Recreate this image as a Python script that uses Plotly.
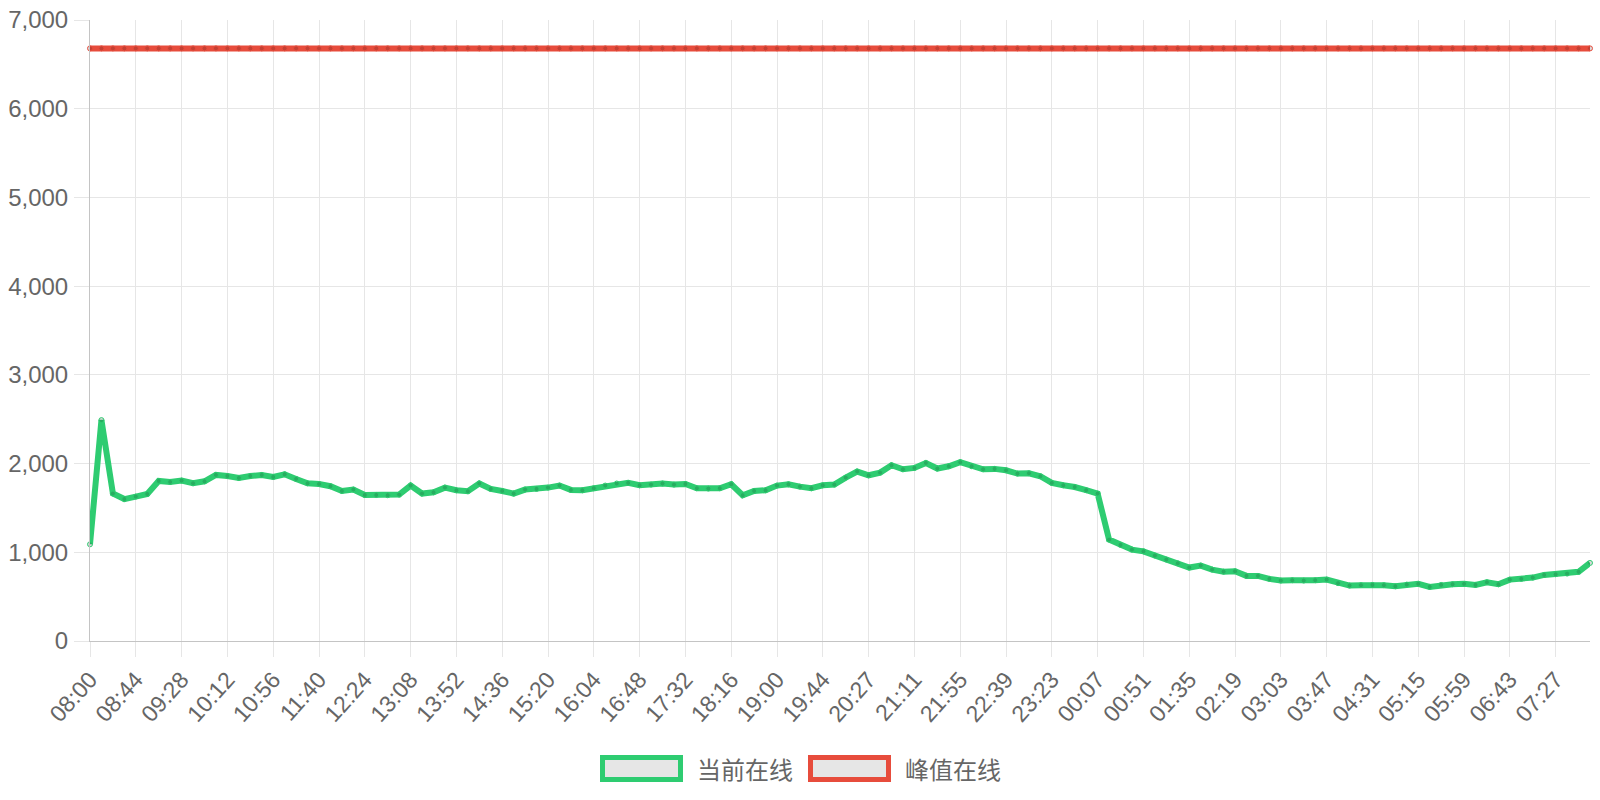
import plotly.graph_objects as go

tick_labels = ["08:00", "08:44", "09:28", "10:12", "10:56", "11:40", "12:24", "13:08", "13:52",
               "14:36", "15:20", "16:04", "16:48", "17:32", "18:16", "19:00", "19:44", "20:27",
               "21:11", "21:55", "22:39", "23:23", "00:07", "00:51", "01:35", "02:19", "03:03",
               "03:47", "04:31", "05:15", "05:59", "06:43", "07:27"]

current_online = [
    1090, 2490, 1662, 1600, 1628, 1657, 1804, 1793, 1808, 1778, 1800, 1872,
    1860, 1838, 1860, 1872, 1849, 1879, 1827, 1778, 1770, 1745, 1691, 1707,
    1646, 1646, 1643, 1650, 1752, 1662, 1676, 1729, 1699, 1688, 1775, 1714,
    1691, 1662, 1707, 1714, 1729, 1752, 1703, 1699, 1722, 1752, 1775, 1782,
    1755, 1763, 1775, 1763, 1770, 1722, 1718, 1722, 1767, 1643, 1691, 1699,
    1752, 1767, 1740, 1722, 1755, 1763, 1842, 1910, 1868, 1898, 1981, 1936,
    1951, 2007, 1944, 1970, 2015, 1970, 1936, 1940, 1924, 1887, 1891, 1857,
    1782, 1755, 1736, 1700, 1662, 1143, 1083, 1030, 1011, 963, 918, 876,
    828, 850, 805, 782, 786, 734, 734, 700, 681, 685, 681, 685,
    692, 652, 625, 629, 632, 629, 617, 636, 644, 610, 632, 640,
    644, 632, 662, 640, 692, 700, 715, 745, 752, 760, 780, 880,
]

peak_online = [
    6680, 6680, 6680, 6680, 6680, 6680, 6680, 6680, 6680, 6680, 6680, 6680,
    6680, 6680, 6680, 6680, 6680, 6680, 6680, 6680, 6680, 6680, 6680, 6680,
    6680, 6680, 6680, 6680, 6680, 6680, 6680, 6680, 6680, 6680, 6680, 6680,
    6680, 6680, 6680, 6680, 6680, 6680, 6680, 6680, 6680, 6680, 6680, 6680,
    6680, 6680, 6680, 6680, 6680, 6680, 6680, 6680, 6680, 6680, 6680, 6680,
    6680, 6680, 6680, 6680, 6680, 6680, 6680, 6680, 6680, 6680, 6680, 6680,
    6680, 6680, 6680, 6680, 6680, 6680, 6680, 6680, 6680, 6680, 6680, 6680,
    6680, 6680, 6680, 6680, 6680, 6680, 6680, 6680, 6680, 6680, 6680, 6680,
    6680, 6680, 6680, 6680, 6680, 6680, 6680, 6680, 6680, 6680, 6680, 6680,
    6680, 6680, 6680, 6680, 6680, 6680, 6680, 6680, 6680, 6680, 6680, 6680,
    6680, 6680, 6680, 6680, 6680, 6680, 6680, 6680, 6680, 6680, 6680, 6680,
]

series_names = ["当前在线", "峰值在线"]
series_colors = ["#2ecc71", "#e74c3c"]

n = len(current_online)
x_idx = list(range(n))
tick_step = 4

fig = go.Figure()
for name, vals, col in zip(series_names, [current_online, peak_online], series_colors):
    fig.add_trace(go.Scatter(
        x=x_idx, y=vals, name=name, mode="lines+markers",
        line=dict(color=col, width=6),
        marker=dict(size=5, color="rgba(0,0,0,0.15)", line=dict(color=col, width=1)),
        cliponaxis=False, showlegend=False,
    ))

FONT = "Liberation Sans, Arial, Noto Sans CJK SC, sans-serif"
W, H = 1600, 800
# plot area in page pixels: x 90..1590, y 20..641
L, R, T, B = 90, 10, 20, 800 - 641
pw, ph = W - L - R, H - T - B

def px_x(px):
    return (px - L) / pw

def px_y(py):
    return (H - B - py) / ph

# custom legend (Chart.js style boxes)
legend_items = [(600, 695), (808, 903)]
for (bx, tx), name, col in zip(legend_items, series_names, series_colors):
    fig.add_shape(type="rect", xref="paper", yref="paper",
                  x0=px_x(bx + 2.5), x1=px_x(bx + 80.5),
                  y0=px_y(779.5), y1=px_y(757.5),
                  line=dict(color=col, width=5), fillcolor="#e6e6e6")
    fig.add_annotation(xref="paper", yref="paper", x=px_x(tx), y=px_y(768),
                       text=name, showarrow=False, xanchor="left", yanchor="middle",
                       font=dict(size=24, color="#666666", family="Noto Sans CJK SC, sans-serif"))

fig.update_layout(
    width=W, height=H,
    margin=dict(l=L, r=R, t=T, b=B, autoexpand=False),
    plot_bgcolor="white", paper_bgcolor="white",
    font=dict(family=FONT, size=24, color="#666666"),
    showlegend=False,
)
fig.update_xaxes(
    range=[0, n - 1],
    automargin=False,
    tickmode="array",
    tickvals=x_idx[::tick_step],
    ticktext=tick_labels,
    tickangle=-48,
    ticklabeloverflow="allow",
    showgrid=True, gridcolor="#e6e6e6", gridwidth=1,
    ticks="outside", ticklen=15, tickcolor="#e6e6e6", tickwidth=1,
    showline=True, linecolor="#c4c4c4", linewidth=1,
    zeroline=False,
    tickfont=dict(size=23, color="#666666"),
)
fig.update_yaxes(
    range=[0, 7000],
    automargin=False,
    tickmode="linear", tick0=0, dtick=1000,
    tickformat=",d",
    ticklabeloverflow="allow",
    showgrid=True, gridcolor="#e6e6e6", gridwidth=1,
    ticks="outside", ticklen=15, tickcolor="#e6e6e6", tickwidth=1,
    ticklabelstandoff=1,
    showline=True, linecolor="#c4c4c4", linewidth=1,
    zeroline=False,
    tickfont=dict(size=24, color="#666666"),
)

fig.write_html(
    "out.html",
    config={"displayModeBar": False},
    post_script="document.body.style.margin='0';document.body.style.overflow='hidden';",
)
